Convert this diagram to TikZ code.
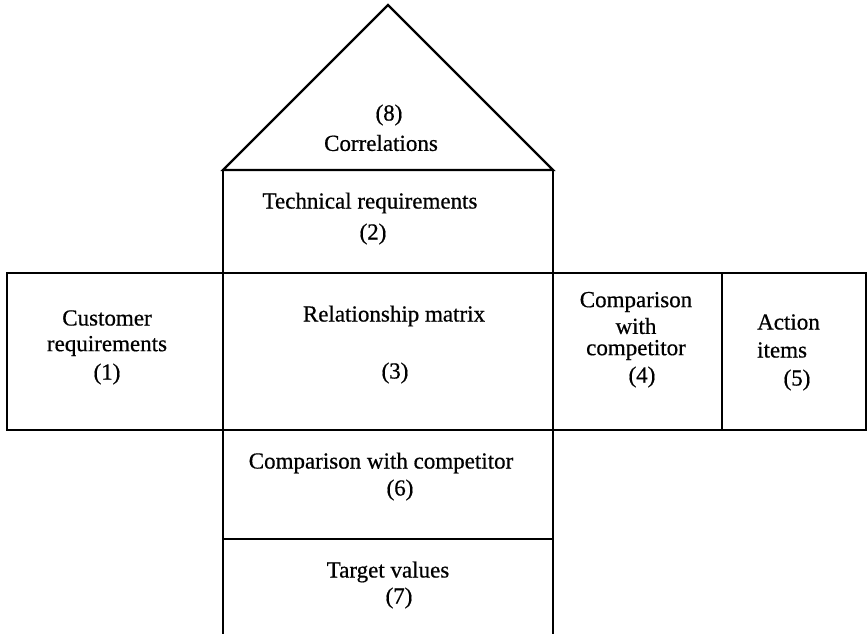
\documentclass[tikz,border=0pt]{standalone}
\usepackage{fontspec}
\setmainfont[FakeBold=0.6]{Liberation Serif}
\begin{document}
\begin{tikzpicture}[x=1pt,y=-1pt,
  frame/.style={draw=black,line width=2.2pt,line join=miter},
  lbl/.style={inner sep=0pt,anchor=center,font=\fontsize{23}{26}\selectfont}]
\useasboundingbox (0,0) rectangle (868,633);
% roof
\coordinate (apex) at (388,5);
\coordinate (rl) at (223,170);
\coordinate (rr) at (553,170);
\draw[frame] (rl) -- (apex) -- (rr) -- cycle;
% technical requirements box
\draw[frame] (223,170) rectangle (553,273);
% middle row
\draw[frame] (7,273) rectangle (223,430);
\draw[frame] (223,273) rectangle (553,430);
\draw[frame] (553,273) rectangle (722,430);
\draw[frame] (722,273) rectangle (866,430);
% lower boxes
\draw[frame] (223,430) rectangle (553,539);
\draw[frame] (223,539) rectangle (553,640);
% texts
\node[lbl] (n8) at (389,115) {(8)};
\node[lbl] (corr) at (381,143) {Correlations};
\node[lbl] (tech) at (370,203) {Technical requirements};
\node[lbl] (n2) at (373,234) {(2)};
\node[lbl] (cust) at (107,318) {Customer};
\node[lbl] (custr) at (107,346) {requirements};
\node[lbl] (n1) at (107,374) {(1)};
\node[lbl] (rel) at (394,316) {Relationship matrix};
\node[lbl] (n3) at (395,373) {(3)};
\node[lbl] (cmp) at (636,302) {Comparison};
\node[lbl] (with) at (636,326) {with};
\node[lbl] (cpt) at (636,350) {competitor};
\node[lbl] (n4) at (642,377) {(4)};
\node[lbl,anchor=west] (act) at (757,322) {Action};
\node[lbl,anchor=west] (items) at (757,350) {items};
\node[lbl] (n5) at (797,380) {(5)};
\node[lbl] (cmp6) at (381,463) {Comparison with competitor};
\node[lbl] (n6) at (400,490) {(6)};
\node[lbl] (tgt) at (388,572) {Target values};
\node[lbl] (n7) at (399,598) {(7)};
\end{tikzpicture}
\end{document}
